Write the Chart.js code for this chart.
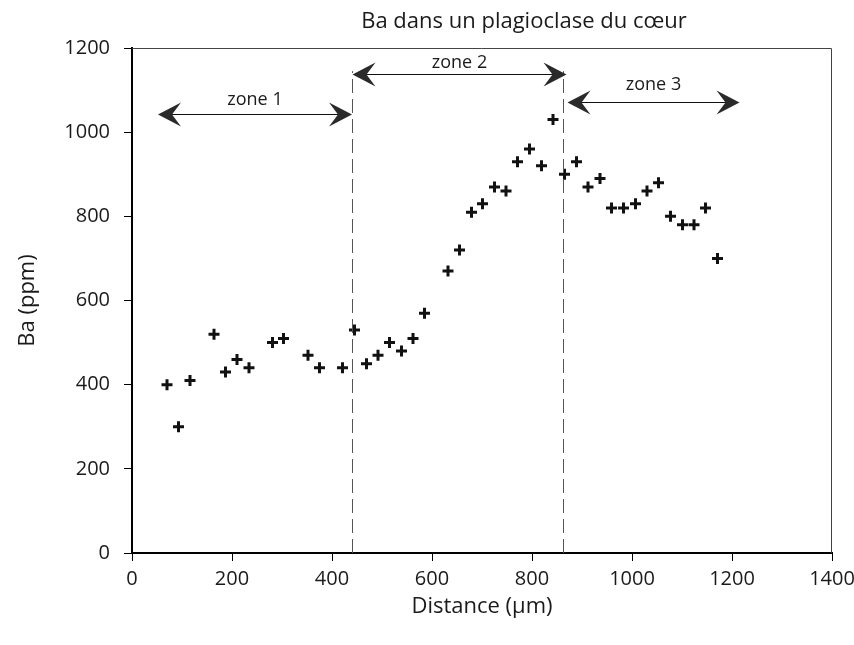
<!DOCTYPE html>
<html>
<head>
  <meta charset="UTF-8">
  <title>Ba dans un plagioclase du cœur</title>
  <script src="https://cdn.jsdelivr.net/npm/chart.js"></script>
  <style>
    body { margin: 0; background: #fff; }
    #wrap { width: 854px; height: 645px; }
  </style>
</head>
<body>
<div id="wrap"><canvas id="baChart"></canvas></div>

<script>
  // distance (µm) and Ba (ppm) of each analysis
  var distance = [70, 93, 116, 164, 187, 210, 234, 281, 303, 352,
                  375, 421, 445, 469, 492, 515, 539, 562, 585, 632,
                  655, 679, 701, 725, 748, 771, 795, 819, 842, 865,
                  889, 912, 936, 959, 983, 1007, 1030, 1053, 1077, 1101,
                  1124, 1147, 1171];
  var ba = [400, 300, 410, 520, 430, 460, 440, 500, 510, 470,
            440, 440, 530, 450, 470, 500, 480, 510, 570, 670,
            720, 810, 830, 870, 860, 930, 960, 920, 1030, 900,
            930, 870, 890, 820, 820, 830, 860, 880, 800, 780,
            780, 820, 700];

  var xTicks = [0, 200, 400, 600, 800, 1000, 1200, 1400];
  var yTicks = [0, 200, 400, 600, 800, 1000, 1200];

  // zones (arrows) in data units
  var zoneNames = ['zone 1', 'zone 2', 'zone 3'];
  var zoneFrom = [52, 441, 871];
  var zoneTo = [440, 869, 1215];
  var zoneLevel = [1042, 1139, 1071];
  var zoneLabelLevel = [1077, 1165, 1113];
  var zoneBounds = [440, 862];
  var boundTop = 1145;

  var fontFam = '"Open Sans", "DejaVu Sans", sans-serif';
  var ink = '#1a1a1a';

  var points = distance.map(function(d, i) { return {x: d, y: ba[i]}; });

  function arrowHead(ctx, tx, ty, dir) {
    // dir = -1 points left, +1 points right
    var len = 23, half = 12, notch = 14;
    ctx.beginPath();
    ctx.moveTo(tx, ty);
    ctx.lineTo(tx - dir * len, ty - half);
    ctx.lineTo(tx - dir * notch, ty);
    ctx.lineTo(tx - dir * len, ty + half);
    ctx.closePath();
    ctx.fill();
  }

  var extras = {
    id: 'extras',
    afterDraw: function(chart) {
      var ctx = chart.ctx;
      var xs = chart.scales.x, ys = chart.scales.y;
      var a = chart.chartArea;
      ctx.save();

      // frame top/right
      ctx.strokeStyle = '#444';
      ctx.lineWidth = 1;
      ctx.beginPath();
      ctx.moveTo(a.left, a.top + 0.5);
      ctx.lineTo(a.right - 0.5, a.top + 0.5);
      ctx.lineTo(a.right - 0.5, a.bottom);
      ctx.stroke();

      // zone boundaries
      ctx.strokeStyle = '#555';
      ctx.setLineDash([14, 6]);
      zoneBounds.forEach(function(b) {
        var px = Math.round(xs.getPixelForValue(b)) + 0.5;
        ctx.beginPath();
        ctx.moveTo(px, ys.getPixelForValue(0));
        ctx.lineTo(px, ys.getPixelForValue(boundTop));
        ctx.stroke();
      });
      ctx.setLineDash([]);

      // zone arrows and labels
      ctx.fillStyle = '#2a2a2a';
      ctx.strokeStyle = '#111';
      ctx.lineWidth = 1.2;
      ctx.font = '18px ' + fontFam;
      ctx.textAlign = 'center';
      ctx.textBaseline = 'middle';
      zoneNames.forEach(function(name, i) {
        var x1 = xs.getPixelForValue(zoneFrom[i]);
        var x2 = xs.getPixelForValue(zoneTo[i]);
        var y = Math.round(ys.getPixelForValue(zoneLevel[i])) + 0.5;
        ctx.beginPath();
        ctx.moveTo(x1 + 10, y);
        ctx.lineTo(x2 - 10, y);
        ctx.stroke();
        arrowHead(ctx, x1, y, -1);
        arrowHead(ctx, x2, y, 1);
        ctx.fillStyle = ink;
        ctx.fillText(name, (x1 + x2) / 2, ys.getPixelForValue(zoneLabelLevel[i]));
        ctx.fillStyle = '#2a2a2a';
      });

      // chart title
      ctx.fillStyle = ink;
      ctx.font = '22px ' + fontFam;
      ctx.fillText('Ba dans un plagioclase du cœur', 524, 22);
      ctx.restore();
    }
  };

  var ctx = document.getElementById('baChart').getContext('2d');
  var baChart = new Chart(ctx, {
    type: 'scatter',
    data: {
      datasets: [{
        label: 'Ba',
        data: points,
        pointStyle: 'cross',
        pointRadius: 5.5,
        borderWidth: 3,
        borderColor: '#111',
        backgroundColor: '#111'
      }]
    },
    options: {
      responsive: true,
      maintainAspectRatio: false,
      animation: false,
      layout: { padding: { top: 48, right: 22, left: 0, bottom: 0 } },
      plugins: {
        legend: { display: false },
        tooltip: { enabled: false }
      },
      scales: {
        x: {
          type: 'linear',
          min: 0,
          max: 1400,
          afterBuildTicks: function(s) { s.ticks = xTicks.map(function(v) { return {value: v}; }); },
          afterFit: function(s) { s.height = 92; s.paddingRight = 0; s.paddingLeft = 0; },
          ticks: {
            color: ink, font: { family: fontFam, size: 20 }, padding: 6, maxRotation: 0,
            callback: function(v) { return String(v); }
          },
          grid: { drawOnChartArea: false, drawTicks: true, tickLength: 8, color: '#000' },
          border: { color: '#000', width: 2 },
          title: {
            display: true,
            text: 'Distance (µm)',
            color: ink,
            font: { family: fontFam, size: 22 },
            padding: { top: 0, bottom: 25 }
          }
        },
        y: {
          min: 0,
          max: 1200,
          afterBuildTicks: function(s) { s.ticks = yTicks.map(function(v) { return {value: v}; }); },
          afterFit: function(s) { s.width = 132; s.paddingTop = 0; s.paddingBottom = 0; },
          ticks: {
            color: ink, font: { family: fontFam, size: 20 }, padding: 14,
            callback: function(v) { return String(v); }
          },
          grid: { drawOnChartArea: false, drawTicks: true, tickLength: 8, color: '#000' },
          border: { color: '#000', width: 2 },
          title: {
            display: true,
            text: 'Ba (ppm)',
            color: ink,
            font: { family: fontFam, size: 22 },
            padding: { top: 15, bottom: 0 }
          }
        }
      }
    },
    plugins: [extras]
  });
</script>
</body>
</html>
